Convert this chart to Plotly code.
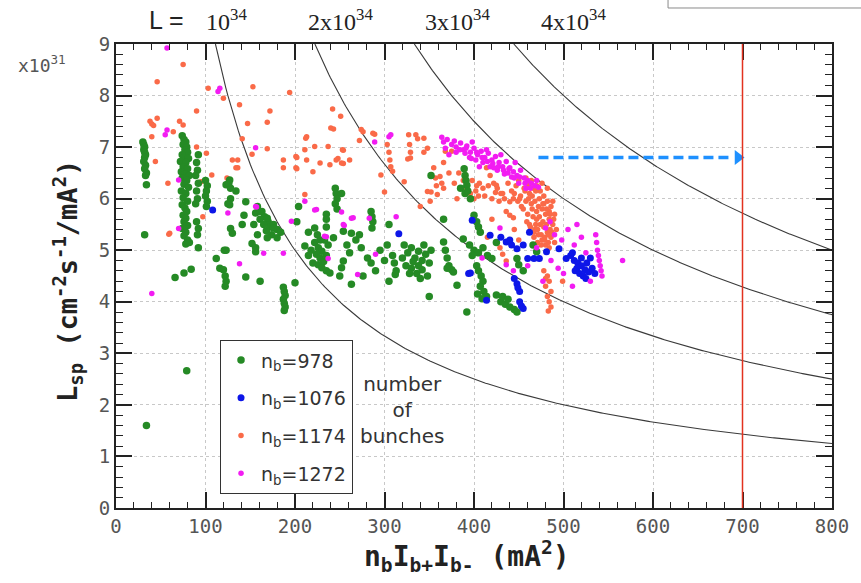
import numpy as np
import plotly.graph_objects as go

# ---------------- data ----------------
# nb = 978 (green)
g978_x = [30, 31, 32, 31, 32, 33, 32, 31, 33, 32, 34, 33, 34, 32, 34, 79,
          74, 76, 78, 75, 79, 77, 80, 74, 76, 81, 72, 78, 75, 80, 73, 77, 82, 74, 79, 76,
          81, 73, 78, 75, 80, 74, 77, 79, 75, 78, 76, 80, 74, 78, 76, 80, 78, 82,
          92, 90, 91, 89, 92, 90, 91, 89, 90, 92, 91, 92,
          100, 102, 101, 100, 102, 101,
          112, 116, 120, 122, 123, 122, 121, 66, 76, 84,
          123, 127, 128, 128, 127, 125, 128, 130, 123, 126, 134,
          145, 143, 141, 154, 156, 152, 156,
          158, 163, 166, 170, 172, 168, 174, 161, 176, 180,
          161, 169, 176, 180, 169, 158, 156, 165, 184,
          187, 188, 189, 187, 188, 189, 188, 200, 161, 145,
          204, 202, 215, 211,
          222, 225, 228, 222, 226, 230, 224, 228, 232, 226, 230, 235, 239, 218, 215, 235, 220, 237, 233,
          235, 235, 235, 245, 246, 247, 245, 247, 252, 243, 254, 263, 272, 261, 254, 252, 250, 263, 276,
          285, 286, 287, 286, 274, 281, 285, 290, 305, 303, 309, 311, 313, 312, 305, 258, 268, 295, 300,
          322, 326, 330, 334, 338, 342, 346, 350, 324, 330, 336, 342, 348, 340, 332, 344, 352, 328, 320, 338,
          366, 368, 370, 372, 375, 377, 370, 381, 350, 392, 366, 352,
          389, 390, 391, 392, 385, 390, 396, 393,
          400, 403, 405, 407,
          388, 395, 400, 405, 410, 415, 420, 425, 398,
          403, 405, 408, 410, 407, 411, 414, 409, 404,
          425, 430, 435, 440, 445, 448, 432, 438,
          448, 450, 455, 466, 470]
g978_y = [7.10, 7.05, 7.00, 6.95, 6.90, 6.85, 6.80, 6.72, 6.65, 6.58, 6.50, 6.45, 6.27, 5.30, 1.60, 2.66,
          7.22, 7.15, 7.10, 7.05, 7.00, 6.95, 6.90, 6.85, 6.80, 6.78, 6.72, 6.70, 6.62, 6.58, 6.52, 6.48, 6.45, 6.40, 6.35, 6.28,
          6.22, 6.15, 6.10, 6.02, 5.95, 5.88, 5.82, 5.75, 5.68, 5.62, 5.55, 5.48, 5.42, 5.35, 5.28, 5.20, 5.12, 5.15,
          6.85, 6.70, 6.55, 6.45, 6.30, 6.15, 6.00, 5.90, 5.55, 5.42, 5.30, 5.05,
          6.35, 6.25, 6.15, 6.05, 5.95, 5.85,
          4.84, 4.65, 4.62, 4.50, 4.40, 4.30, 5.00, 4.47, 4.56, 4.63,
          6.27, 6.36, 6.20, 6.00, 5.88, 5.90, 5.42, 5.33, 5.00, 6.30, 6.15,
          5.94, 5.68, 5.50, 5.50, 5.72, 5.13, 4.97,
          5.85, 5.75, 5.65, 5.55, 5.45, 5.38, 5.30, 5.60, 5.50, 5.40,
          5.75, 5.62, 5.43, 5.24, 5.24, 5.30, 5.05, 5.50, 5.35,
          4.28, 4.20, 4.12, 4.05, 3.97, 3.90, 3.83, 4.37, 4.40, 4.48,
          5.85, 5.55, 5.35, 5.08,
          5.43, 5.30, 5.20, 5.15, 5.05, 4.98, 4.92, 4.85, 4.78, 4.72, 4.66, 4.60, 4.56, 5.00, 4.90, 4.90, 4.75, 5.10, 5.20,
          5.70, 5.60, 5.45, 6.20, 6.10, 6.00, 5.90, 5.80, 6.10, 5.24, 5.37, 5.33, 5.30, 4.95, 4.79, 4.66, 4.50, 4.34, 4.50,
          5.75, 5.65, 5.55, 5.43, 5.05, 4.85, 4.75, 4.60, 5.50, 5.10, 4.90, 4.75, 4.60, 4.53, 4.40, 5.10, 5.20, 5.00, 4.80,
          5.10, 4.95, 5.05, 4.85, 4.98, 4.80, 4.92, 4.75, 4.70, 4.65, 4.55, 4.62, 4.50, 4.45, 4.78, 5.10, 5.00, 4.55, 4.85, 4.70,
          5.16, 5.00, 4.85, 4.70, 4.62, 4.58, 4.65, 4.32, 4.10, 3.80, 5.60, 6.45,
          6.58, 6.45, 6.35, 6.26, 6.20, 6.10, 6.00, 6.15,
          5.68, 5.55, 5.45, 5.35,
          5.22, 5.10, 5.00, 4.95, 5.05, 4.90, 4.84, 5.15, 4.90,
          4.70, 4.60, 4.50, 4.40, 4.30, 4.20, 4.10, 4.06, 4.15,
          4.13, 4.00, 3.95, 3.90, 3.85, 3.80, 4.10, 4.05,
          4.84, 4.72, 4.60, 5.10, 4.97]

# nb = 1076 (blue)
b1076_x = [108, 316, 398, 418, 436, 442, 448, 440, 445, 448, 451, 449, 414, 451, 453, 455,
           460, 467, 473, 462, 495, 503, 508, 512, 516, 520, 524, 518, 522, 528, 515, 526, 530,
           394, 396, 481, 430, 455, 510, 520, 532, 535, 525, 513]
b1076_y = [5.78, 5.32, 5.58, 5.29, 5.16, 5.10, 5.03, 5.20, 4.45, 4.35, 4.20, 4.27, 4.03, 4.00, 3.92, 3.87,
           4.84, 4.84, 4.84, 5.35, 5.03, 4.84, 4.90, 4.80, 4.75, 4.70, 4.62, 4.55, 4.50, 4.58, 4.65, 4.75, 4.85,
           4.55, 4.56, 4.97, 5.25, 5.10, 4.95, 4.85, 4.65, 4.55, 4.45, 4.60]

# nb = 1174 (orange)
o1174_x = [46, 75, 38, 40, 42, 46, 40, 44, 58, 60, 64, 71, 75, 90, 103, 120, 138, 147, 141, 101,
           153, 107, 136, 136, 124, 95, 194, 169, 172, 152, 169, 130, 134, 187, 187, 201, 201, 211,
           212, 222, 228, 239, 240, 242, 251, 248, 253, 211, 237, 59, 76, 97, 90,
           213, 202, 213, 220, 202, 246, 254, 261, 254, 272, 243, 276, 289, 300,
           252, 274, 287, 303, 305, 306, 307, 309, 327, 328, 329, 329, 335, 344, 348, 368, 375,
           355, 357, 358, 359, 362, 364, 366, 383, 388, 392, 396, 400, 403, 348, 351, 322, 340,
           296, 337, 344, 326, 352, 366, 372, 378, 381,
           414, 418, 422, 426, 430, 434, 438, 442, 444, 436, 440, 444, 425, 432, 440, 410, 405,
           452, 456, 460, 462, 466, 470, 474, 478, 482, 486, 490, 458, 464, 468, 472, 476, 480, 484, 488,
           455, 460, 466, 470, 474, 478, 482, 486, 490, 462, 468, 472, 476, 480, 484, 470, 478, 484, 488,
           492, 476, 482, 464, 458, 450,
           457, 461, 465, 469, 473, 477, 481, 485, 489, 459, 463, 467, 471, 475, 479, 483, 487,
           461, 465, 469, 473, 477, 481, 485, 467, 471, 475, 479, 483, 445, 449, 453, 447, 451,
           398, 402, 406, 412, 416, 420, 424, 428,
           478, 482, 484, 480, 486, 482, 484, 486, 483, 480,
           429, 432, 436, 499, 420, 415, 445, 450]
o1174_y = [8.27, 8.60, 7.50, 7.45, 7.42, 7.56, 7.20, 6.72, 6.30, 5.33, 7.30, 7.50, 7.43, 7.70, 8.14, 7.95, 7.82, 7.46, 7.16, 6.88,
           8.17, 6.46, 6.75, 6.60, 6.40, 6.33, 8.06, 7.48, 7.70, 6.86, 6.97, 6.75, 6.60, 6.75, 6.60, 6.82, 6.60, 6.95,
           7.17, 7.01, 6.69, 6.66, 7.37, 7.74, 7.60, 6.78, 6.95, 6.08, 7.01, 5.31, 5.58, 5.65, 7.00,
           7.20, 6.80, 6.75, 6.52, 6.58, 6.75, 6.68, 6.75, 6.94, 7.13, 7.35, 7.30, 7.25, 6.13,
           6.69, 7.34, 7.27, 7.05, 6.90, 6.75, 6.62, 6.53, 7.24, 7.05, 6.90, 6.79, 7.24, 7.17, 6.98, 6.92, 6.92,
           6.60, 6.40, 6.25, 6.08, 6.43, 6.30, 6.20, 6.50, 6.35, 6.20, 6.10, 6.00, 6.25, 6.14, 5.95, 6.33, 5.85,
           6.46, 7.16, 6.90, 6.77, 6.13, 6.70, 6.50, 6.30, 6.00,
           6.60, 6.45, 6.30, 6.20, 6.10, 6.00, 6.30, 6.15, 6.00, 5.75, 5.68, 5.63, 6.26, 6.10, 5.94, 6.20, 6.05,
           6.05, 6.20, 6.30, 6.10, 6.20, 6.25, 6.15, 6.05, 5.95, 5.85, 5.70, 5.95, 5.90, 5.95, 5.85, 5.80, 5.70, 5.60, 5.50,
           5.80, 5.70, 5.65, 5.60, 5.50, 5.45, 5.35, 5.25, 5.15, 5.50, 5.40, 5.30, 5.20, 5.10, 5.05, 5.75, 5.90, 5.75, 5.95,
           5.40, 6.30, 6.20, 6.35, 6.40, 6.35,
           6.15, 6.25, 6.05, 6.15, 6.00, 5.90, 5.80, 5.70, 5.60, 5.55, 5.45, 5.35, 5.40, 5.30, 5.20, 5.15, 5.35,
           6.00, 5.80, 5.50, 5.65, 5.55, 5.50, 5.40, 5.25, 5.15, 5.10, 5.25, 5.30, 6.10, 5.95, 5.85, 6.25, 6.00,
           6.35, 6.15, 6.30, 6.05, 6.25, 6.00, 6.12, 5.95,
           4.60, 4.50, 4.40, 4.30, 4.20, 4.10, 4.00, 3.90, 3.82, 4.45,
           5.05, 4.92, 4.79, 4.40, 5.60, 5.25, 5.40, 5.20]

# nb = 1272 (magenta)
m1272_x = [57, 116, 114, 57, 55, 70, 70, 125, 156, 156, 138, 40, 196, 211, 224, 165, 187, 157,
           235, 252, 255, 237, 222, 233, 254, 270, 290, 263, 283, 313, 265, 305, 289, 307,
           364, 366, 368, 375, 380, 385, 388, 392, 396, 400, 404, 408, 412, 416, 420, 424, 428,
           432, 436, 440, 444, 448, 452, 456, 460, 464, 468, 472, 395, 402, 410, 418, 426, 434,
           442, 450, 458, 390, 414, 430, 446, 470, 438, 422, 406, 398, 380, 372,
           370, 378, 384, 391, 397, 403, 409, 415, 421, 427, 433, 439, 445, 451, 457, 463,
           429, 480, 490, 498, 505, 512, 520, 525, 486, 494, 500, 477, 436, 444, 409,
           536, 537, 538, 539, 540, 541, 542, 543, 566, 530, 515, 485, 470, 460, 510]
m1272_y = [8.92, 8.14, 8.08, 7.33, 7.24, 6.36, 5.42, 5.72, 6.99, 5.85, 4.74, 4.16, 5.56, 5.95, 5.79, 4.94, 4.94, 5.84,
           5.26, 5.74, 5.48, 4.84, 5.78, 5.27, 5.50, 4.53, 4.92, 5.62, 5.62, 5.65, 5.63, 7.20, 7.10, 7.24,
           7.19, 7.10, 6.98, 7.05, 7.00, 7.08, 6.95, 7.02, 6.90, 6.98, 6.85, 6.92, 6.80, 6.88, 6.75, 6.82, 6.70,
           6.62, 6.72, 6.60, 6.52, 6.45, 6.55, 6.40, 6.35, 6.30, 6.25, 6.22, 6.80, 6.75, 6.70, 6.62, 6.55, 6.48,
           6.42, 6.30, 6.20, 6.88, 6.95, 6.85, 6.70, 6.35, 6.50, 6.60, 6.62, 7.10, 6.90, 6.85,
           7.15, 7.12, 6.95, 6.98, 6.78, 6.90, 6.80, 6.72, 6.68, 6.62, 6.55, 6.58, 6.40, 6.42, 6.30, 6.20,
           5.43, 5.43, 5.30, 5.20, 5.40, 5.10, 5.25, 4.95, 4.80, 4.65, 4.55, 4.40, 4.72, 4.60, 4.85,
           5.30, 5.15, 5.00, 4.90, 4.80, 4.70, 4.60, 4.50, 4.80, 4.40, 5.50, 5.55, 5.05, 4.70, 4.30]

# iso-luminosity curves, L in units of 1e34 cm^-2 s^-1
lum_levels = [1, 2, 3, 4]
lum_labels = ["10<sup>34</sup>", "2x10<sup>34</sup>", "3x10<sup>34</sup>", "4x10<sup>34</sup>"]
lum_label_x = [124, 251, 382, 511]
limit_x = 700          # red vertical line
arrow_y = 6.8          # blue dashed arrow
arrow_x0, arrow_x1 = 472, 702

# ---------------- figure ----------------
fig = go.Figure()

for L in lum_levels:
    xs = np.linspace(1000 * L / 9.0, 800, 300)
    fig.add_trace(go.Scatter(x=xs, y=1000 * L / xs, mode="lines",
                             line=dict(color="#3a3a3a", width=1.1),
                             showlegend=False, hoverinfo="skip"))

series = [
    ("n<sub>b</sub>=1174", o1174_x, o1174_y, "#fa6a48", 5.5, 3),
    ("n<sub>b</sub>=978", g978_x, g978_y, "#258a25", 7.5, 1),
    ("n<sub>b</sub>=1076", b1076_x, b1076_y, "#0d16e8", 7, 2),
    ("n<sub>b</sub>=1272", m1272_x, m1272_y, "#f21cf2", 5.5, 4),
]
for name, xs, ys, col, sz, rank in series:
    fig.add_trace(go.Scatter(x=xs, y=ys, mode="markers", name=name,
                             marker=dict(color=col, size=sz, line=dict(width=0)),
                             legendgroup=name, legendrank=rank))

# arrowhead
fig.add_trace(go.Scatter(x=[arrow_x1 - 7], y=[arrow_y], mode="markers",
                         marker=dict(symbol="triangle-right", size=13, color="#1e90ff"),
                         showlegend=False, hoverinfo="skip"))

fig.add_shape(type="line", x0=limit_x, x1=limit_x, y0=0, y1=9, xref="x", yref="y",
              line=dict(color="#e2321f", width=1.5))
fig.add_shape(type="line", x0=arrow_x0, x1=arrow_x1 - 14, y0=arrow_y, y1=arrow_y,
              xref="x", yref="y", line=dict(color="#1e90ff", width=3.5, dash="10px,5px"))
# stray frame fragment in the top-right corner
fig.add_shape(type="rect", x0=0.771, x1=1.05, y0=1.0776, y1=1.3, xref="paper", yref="paper",
              line=dict(color="#8a8a8a", width=1))

tickfont = dict(family="DejaVu Sans Mono", size=19, color="#555555")
axis_common = dict(showline=True, linecolor="#222222", linewidth=2, mirror="allticks",
                   ticks="inside", ticklen=16, tickwidth=1.5, tickcolor="#222222",
                   showgrid=True, gridcolor="#c8c8c8", griddash="dot", gridwidth=1,
                   zeroline=False, tickfont=tickfont, tickmode="linear")

fig.update_xaxes(range=[0, 800], tick0=0, dtick=100,
                 minor=dict(tick0=0, dtick=20, ticklen=6, tickwidth=1.2, tickcolor="#222222",
                            ticks="inside", showgrid=False),
                 **axis_common)
fig.update_yaxes(range=[0, 9], tick0=0, dtick=1,
                 minor=dict(tick0=0, dtick=0.2, ticklen=7, tickwidth=1.2, tickcolor="#222222",
                            ticks="inside", showgrid=False),
                 **axis_common)

annos = []
annos.append(dict(text="<b>n<sub>b</sub>I<sub>b+</sub>I<sub>b-</sub> (mA<sup>2</sup>)</b>",
                  xref="paper", yref="paper", x=0.49, y=-0.105, showarrow=False,
                  xanchor="center", yanchor="middle",
                  font=dict(family="DejaVu Sans Mono", size=28, color="#222222")))
annos.append(dict(text="<b>L<sub>sp</sub> (cm<sup>-2</sup>s<sup>-1</sup>/mA<sup>2</sup>)</b>",
                  xref="paper", yref="paper", x=-0.068, y=0.49, showarrow=False,
                  xanchor="center", yanchor="middle", textangle=-90,
                  font=dict(family="DejaVu Sans Mono", size=27, color="#222222")))
annos.append(dict(text="x10<sup>31</sup>", xref="paper", yref="paper", x=-0.104, y=0.957,
                  showarrow=False, xanchor="center", yanchor="middle",
                  font=dict(family="DejaVu Sans Mono", size=18, color="#555555")))
annos.append(dict(text="L =", xref="x", yref="paper", x=56, y=1.052, showarrow=False,
                  xanchor="center", yanchor="middle",
                  font=dict(family="Liberation Sans", size=25, color="#222222")))
for lx, lt in zip(lum_label_x, lum_labels):
    annos.append(dict(text=lt, xref="x", yref="paper", x=lx, y=1.052, showarrow=False,
                      xanchor="center", yanchor="middle",
                      font=dict(family="Liberation Serif", size=24, color="#222222")))
annos.append(dict(text="number<br>of<br>bunches", xref="x", yref="y", x=320, y=1.9,
                  showarrow=False, xanchor="center", yanchor="middle",
                  font=dict(family="DejaVu Sans", size=20, color="#333333")))

fig.update_layout(
    width=861, height=583,
    margin=dict(l=116, r=23, t=44, b=75),
    paper_bgcolor="white", plot_bgcolor="white",
    showlegend=True,
    legend=dict(x=0.145, y=0.362, xanchor="left", yanchor="top",
                bordercolor="#333333", borderwidth=1.2, bgcolor="white",
                font=dict(family="DejaVu Sans", size=19, color="#333333"),
                tracegroupgap=10, itemwidth=30),
    annotations=annos,
)

fig.write_html("out.html", config={"displayModeBar": False},
               post_script="document.body.style.margin='0';document.body.style.padding='0';")
